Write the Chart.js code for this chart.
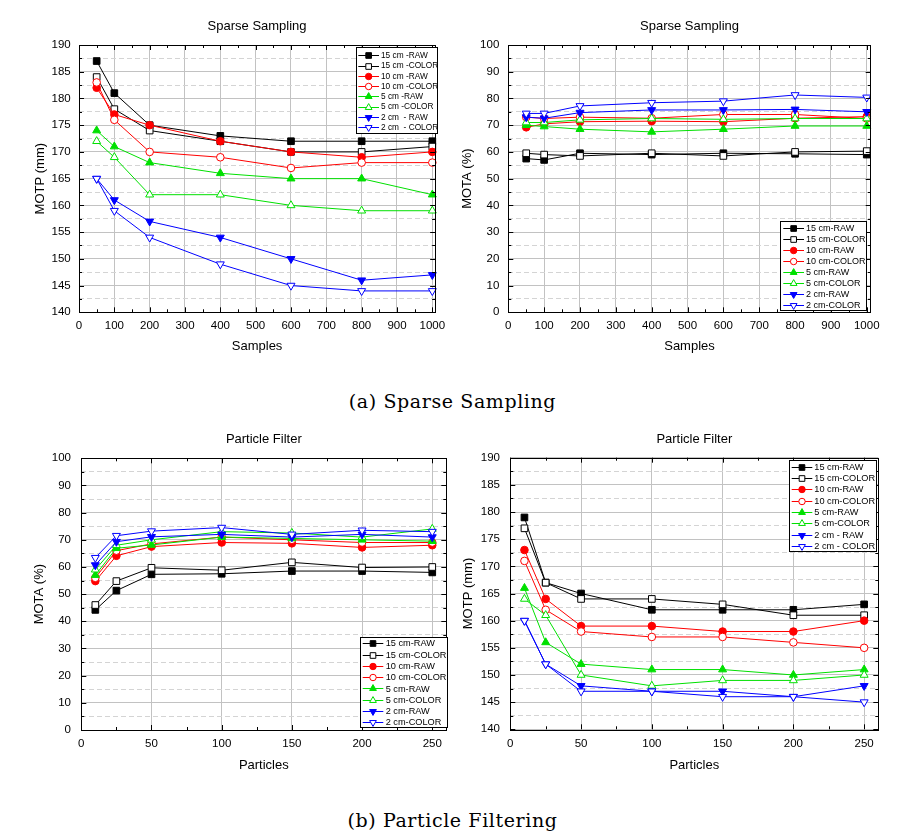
<!DOCTYPE html>
<html><head><meta charset="utf-8">
<script src="https://cdn.jsdelivr.net/npm/chart.js"></script>
<style>
html,body{margin:0;padding:0;background:#fff;width:905px;height:840px;overflow:hidden}
canvas{position:absolute}
.cap{position:absolute;left:0;width:905px;text-align:center;font-family:"DejaVu Serif",serif;font-size:19px;line-height:22px;color:#000;letter-spacing:0.6px}
</style></head><body>
<canvas id="c1" width="452" height="370" style="left:0px;top:0px"></canvas>
<canvas id="c2" width="453" height="370" style="left:452px;top:0px"></canvas>
<canvas id="c3" width="452" height="370" style="left:0px;top:420px"></canvas>
<canvas id="c4" width="453" height="370" style="left:452px;top:420px"></canvas>
<div class="cap" style="top:390px">(a) Sparse Sampling</div>
<div class="cap" style="top:809px">(b) Particle Filtering</div>
<script>
// ---------- categories / x values ----------
const samples = [50, 100, 200, 400, 600, 800, 1000];
const particles = [10, 25, 50, 100, 150, 200, 250];

// ---------- tick labels ----------
const samplesTicks = [0, 100, 200, 300, 400, 500, 600, 700, 800, 900, 1000];
const particlesTicks = [0, 50, 100, 150, 200, 250];
const motpTicks = [140, 145, 150, 155, 160, 165, 170, 175, 180, 185, 190];
const motaTicks = [0, 10, 20, 30, 40, 50, 60, 70, 80, 90, 100];

// ---------- legend labels ----------
const labelsSSMotp = ['15 cm -RAW', '15 cm -COLOR', '10 cm -RAW', '10 cm -COLOR', '5 cm -RAW', '5 cm -COLOR', '2 cm  - RAW', '2 cm  - COLOR'];
const labelsSSMota = ['15 cm-RAW', '15 cm-COLOR', '10 cm-RAW', '10 cm-COLOR', '5 cm-RAW', '5 cm-COLOR', '2 cm-RAW', '2 cm-COLOR'];
const labelsPFMota = ['15 cm-RAW', '15 cm-COLOR', '10 cm-RAW', '10 cm-COLOR', '5 cm-RAW', '5 cm-COLOR', '2 cm-RAW', '2 cm-COLOR'];
const labelsPFMotp = ['15 cm-RAW', '15 cm-COLOR', '10 cm-RAW', '10 cm-COLOR', '5 cm-RAW', '5 cm-COLOR', '2 cm - RAW', '2 cm - COLOR'];

// ---------- Sparse Sampling, MOTP (mm) ----------
const ssMotp15Raw   = [187, 181, 175, 173, 172, 172, 172];
const ssMotp15Color = [184, 178, 174, 172, 170, 170, 171];
const ssMotp10Raw   = [182, 177, 175, 172, 170, 169, 170];
const ssMotp10Color = [183, 176, 170, 169, 167, 168, 168];
const ssMotp5Raw    = [174, 171, 168, 166, 165, 165, 162];
const ssMotp5Color  = [172, 169, 162, 162, 160, 159, 159];
const ssMotp2Raw    = [165, 161, 157, 154, 150, 146, 147];
const ssMotp2Color  = [165, 159, 154, 149, 145, 144, 144];

// ---------- Sparse Sampling, MOTA (%) ----------
const ssMota15Raw   = [57.5, 57, 59.5, 59, 59.5, 59.3, 59];
const ssMota15Color = [59.5, 59, 58.5, 59.5, 58.5, 60, 60.3];
const ssMota10Raw   = [69.2, 70.5, 71.3, 71.5, 71.3, 72.6, 73.2];
const ssMota10Color = [73, 72.5, 73, 72.6, 74, 74, 72.5];
const ssMota5Raw    = [70, 69.5, 68.5, 67.5, 68.5, 69.7, 69.7];
const ssMota5Color  = [71, 71, 72, 72.5, 72.2, 72.5, 72.5];
const ssMota2Raw    = [73, 72.6, 74.7, 75.7, 75.7, 75.9, 75];
const ssMota2Color  = [74.4, 74.4, 77.2, 78.4, 79, 81.3, 80.4];

// ---------- Particle Filter, MOTA (%) ----------
const pfMota15Raw   = [44.2, 51.3, 57.3, 57.5, 58.5, 58.5, 58];
const pfMota15Color = [46, 54.8, 59.7, 58.8, 61.7, 59.8, 60];
const pfMota10Raw   = [54.8, 64.1, 67.5, 69, 68.7, 67.2, 68];
const pfMota10Color = [56, 66, 68.5, 71, 70, 69, 69];
const pfMota5Raw    = [57, 66.9, 68.1, 71, 70.5, 70, 69.5];
const pfMota5Color  = [59, 68, 70, 73, 72.5, 71, 74];
const pfMota2Raw    = [60.7, 69.3, 71.1, 72, 71, 72, 71];
const pfMota2Color  = [63.4, 71.5, 73.2, 74.5, 72, 73.5, 73];

// ---------- Particle Filter, MOTP (mm) ----------
const pfMotp15Raw   = [179, 167, 165, 162, 162, 162, 163];
const pfMotp15Color = [177, 167, 164, 164, 163, 161, 161];
const pfMotp10Raw   = [173, 164, 159, 159, 158, 158, 160];
const pfMotp10Color = [171, 162, 158, 157, 157, 156, 155];
const pfMotp5Raw    = [166, 156, 152, 151, 151, 150, 151];
const pfMotp5Color  = [164, 161, 150, 148, 149, 149, 150];
const pfMotp2Raw    = [160, 152, 148, 147, 147, 146, 148];
const pfMotp2Color  = [160, 152, 147, 147, 146, 146, 145];

// ---------- styles ----------
const FONT = '"Liberation Sans", Arial, sans-serif';
const GREEN = '#00e000';
const seriesStyle = [
  {color: '#000000', shape: 'rect', filled: true, r: 4.7},
  {color: '#000000', shape: 'rect', filled: false, r: 4.7},
  {color: '#ff0000', shape: 'circle', filled: true, r: 3.8},
  {color: '#ff0000', shape: 'circle', filled: false, r: 3.8},
  {color: GREEN, shape: 'triangle', filled: true, r: 4.6, rot: 0},
  {color: GREEN, shape: 'triangle', filled: false, r: 4.6, rot: 0},
  {color: '#0000ff', shape: 'triangle', filled: true, r: 4.6, rot: 180},
  {color: '#0000ff', shape: 'triangle', filled: false, r: 4.6, rot: 180}
];

function midpoints(arr) {
  const out = [];
  for (let i = 0; i < arr.length - 1; i++) out.push((arr[i] + arr[i + 1]) / 2);
  return out;
}

function makeDatasets(xs, series, labels) {
  return series.map((arr, i) => {
    const s = seriesStyle[i];
    return {
      label: labels[i],
      data: xs.map((x, j) => ({x: x, y: arr[j]})),
      borderColor: s.color,
      backgroundColor: s.color,
      borderWidth: 1,
      pointStyle: s.shape,
      pointRotation: s.rot || 0,
      pointRadius: s.r,
      pointBorderWidth: 1,
      pointBackgroundColor: s.filled ? s.color : '#ffffff',
      pointBorderColor: s.color,
      tension: 0,
      fill: false,
      clip: false,
      order: series.length - i
    };
  });
}

function drawMarker(ctx, s, x, y, r) {
  ctx.save();
  ctx.lineWidth = 1;
  ctx.strokeStyle = s.color;
  ctx.fillStyle = s.filled ? s.color : '#ffffff';
  ctx.beginPath();
  if (s.shape === 'rect') {
    const h = r * Math.SQRT1_2;
    ctx.rect(x - h, y - h, 2 * h, 2 * h);
  } else if (s.shape === 'circle') {
    ctx.arc(x, y, r, 0, Math.PI * 2);
  } else {
    const rot = (s.rot || 0) * Math.PI / 180;
    for (let k = 0; k < 3; k++) {
      const a = rot + k * 2 * Math.PI / 3;
      const px = x + Math.sin(a) * r, py = y - Math.cos(a) * r;
      if (k === 0) ctx.moveTo(px, py); else ctx.lineTo(px, py);
    }
    ctx.closePath();
  }
  ctx.fill();
  ctx.stroke();
  ctx.restore();
}

function build(cfg) {
  const canvas = document.getElementById(cfg.id);
  const left = parseFloat(canvas.style.left), top = parseFloat(canvas.style.top);
  const xMinor = midpoints(cfg.xTicks);
  const yMinor = midpoints(cfg.yTicks);
  const yAll = cfg.yTicks.concat(yMinor).sort((a, b) => a - b);
  const isYMajor = v => cfg.yTicks.indexOf(v) >= 0;

  const decor = {
    id: 'decor',
    afterDraw(chart) {
      const ctx = chart.ctx, ca = chart.chartArea;
      const xs = chart.scales.x, ys = chart.scales.y;
      ctx.save();
      // frame
      ctx.strokeStyle = '#000';
      ctx.lineWidth = 1;
      ctx.strokeRect(Math.round(ca.left) + 0.5, Math.round(ca.top) + 0.5, Math.round(ca.right - ca.left), Math.round(ca.bottom - ca.top));
      // inward ticks
      ctx.beginPath();
      const tickX = (v, len) => {
        const p = Math.round(xs.getPixelForValue(v)) + 0.5;
        ctx.moveTo(p, ca.bottom); ctx.lineTo(p, ca.bottom - len);
        ctx.moveTo(p, ca.top); ctx.lineTo(p, ca.top + len);
      };
      const tickY = (v, len) => {
        const p = Math.round(ys.getPixelForValue(v)) + 0.5;
        ctx.moveTo(ca.left, p); ctx.lineTo(ca.left + len, p);
        ctx.moveTo(ca.right, p); ctx.lineTo(ca.right - len, p);
      };
      cfg.xTicks.forEach(v => tickX(v, 5));
      xMinor.forEach(v => tickX(v, 3));
      cfg.yTicks.forEach(v => tickY(v, 5));
      yMinor.forEach(v => tickY(v, 3));
      ctx.stroke();
      // title
      ctx.fillStyle = '#000';
      ctx.font = '13px ' + FONT;
      ctx.textAlign = 'center';
      ctx.textBaseline = 'middle';
      ctx.fillText(cfg.title, (ca.left + ca.right) / 2, cfg.titleY - top);
      // legend
      const L = cfg.legend;
      const bx = L.x0 - left, by = L.y0 - top;
      ctx.fillStyle = '#fff';
      ctx.fillRect(bx, by, L.x1 - L.x0, L.y1 - L.y0);
      ctx.strokeStyle = '#000';
      ctx.lineWidth = 1;
      ctx.strokeRect(Math.round(bx) + 0.5, Math.round(by) + 0.5, Math.round(L.x1 - L.x0), Math.round(L.y1 - L.y0));
      ctx.font = L.font + 'px ' + FONT;
      ctx.textAlign = 'left';
      ctx.textBaseline = 'middle';
      chart.data.datasets.forEach((ds, i) => {
        const s = seriesStyle[i];
        const yy = L.row0 - top + i * L.dy;
        ctx.strokeStyle = s.color;
        ctx.lineWidth = 1;
        ctx.beginPath();
        ctx.moveTo(L.lx0 - left, Math.round(yy) + 0.5);
        ctx.lineTo(L.lx1 - left, Math.round(yy) + 0.5);
        ctx.stroke();
        drawMarker(ctx, s, (L.lx0 + L.lx1) / 2 - left, Math.round(yy) + 0.5, s.r * 0.85);
        ctx.fillStyle = '#000';
        ctx.fillText(ds.label, L.tx - left, yy + 0.5);
      });
      ctx.restore();
    }
  };

  return new Chart(canvas, {
    type: 'line',
    data: {datasets: makeDatasets(cfg.xs, cfg.series, cfg.labels)},
    plugins: [decor],
    options: {
      responsive: false,
      animation: false,
      devicePixelRatio: 1,
      events: [],
      layout: {padding: {left: 0, top: cfg.padTop, right: cfg.padRight, bottom: 0}},
      plugins: {legend: {display: false}, tooltip: {enabled: false}, title: {display: false}},
      scales: {
        x: {
          type: 'linear', min: cfg.xMin, max: cfg.xMax,
          afterBuildTicks: s => { s.ticks = cfg.xTicks.map(v => ({value: v})); },
          afterFit: s => { s.height = cfg.xHeight; },
          ticks: {autoSkip: false, maxRotation: 0, padding: cfg.xTickPad, color: '#000',
                  font: {family: FONT, size: 11.5}, callback: v => String(v)},
          grid: {drawTicks: false, color: '#c2c2c2', lineWidth: 1},
          border: {display: false},
          title: {display: true, text: cfg.xTitle, color: '#000', font: {family: FONT, size: 13},
                  padding: {top: 0, bottom: cfg.xTitlePad}}
        },
        y: {
          type: 'linear', min: cfg.yMin, max: cfg.yMax,
          afterBuildTicks: s => { s.ticks = yAll.map(v => ({value: v})); },
          afterFit: s => { s.width = cfg.yWidth; },
          ticks: {autoSkip: false, padding: cfg.yTickPad, color: '#000',
                  font: {family: FONT, size: 11.5}, callback: v => isYMajor(v) ? String(v) : ''},
          grid: {drawTicks: false, lineWidth: 1,
                 color: c => (c.tick && isYMajor(c.tick.value)) ? '#c2c2c2' : '#d4d4d4'},
          border: {display: false, dash: c => (c.tick && !isYMajor(c.tick.value)) ? [5, 3] : []},
          title: {display: true, text: cfg.yTitle, color: '#000', font: {family: FONT, size: 13},
                  padding: {top: cfg.yTitlePad, bottom: 0}}
        }
      }
    }
  });
}

build({
  id: 'c1', xs: samples, labels: labelsSSMotp,
  series: [ssMotp15Raw, ssMotp15Color, ssMotp10Raw, ssMotp10Color, ssMotp5Raw, ssMotp5Color, ssMotp2Raw, ssMotp2Color],
  xTicks: samplesTicks, yTicks: motpTicks, xMin: 0, xMax: 1008, yMin: 140, yMax: 190,
  padTop: 45, padRight: 11.3, yWidth: 79, xHeight: 57.7,
  xTickPad: 6.8, xTitlePad: 15.5, yTickPad: 8.3, yTitlePad: 32.2,
  title: 'Sparse Sampling', titleY: 26.7, xTitle: 'Samples', yTitle: 'MOTP (mm)',
  legend: {x0: 356, x1: 437, y0: 47, y1: 133, row0: 55.2, dy: 10.3, lx0: 358.3, lx1: 379, tx: 381, font: 8.3}
});
build({
  id: 'c2', xs: samples, labels: labelsSSMota,
  series: [ssMota15Raw, ssMota15Color, ssMota10Raw, ssMota10Color, ssMota5Raw, ssMota5Color, ssMota2Raw, ssMota2Color],
  xTicks: samplesTicks, yTicks: motaTicks, xMin: 0, xMax: 1011, yMin: 0, yMax: 100,
  padTop: 45, padRight: 34.3, yWidth: 56.3, xHeight: 57.7,
  xTickPad: 6.8, xTitlePad: 15.5, yTickPad: 9, yTitlePad: 7.5,
  title: 'Sparse Sampling', titleY: 26.7, xTitle: 'Samples', yTitle: 'MOTA (%)',
  legend: {x0: 780, x1: 866, y0: 221, y1: 310, row0: 227.7, dy: 11, lx0: 783.3, lx1: 804, tx: 806, font: 9}
});
build({
  id: 'c3', xs: particles, labels: labelsPFMota,
  series: [pfMota15Raw, pfMota15Color, pfMota10Raw, pfMota10Color, pfMota5Raw, pfMota5Color, pfMota2Raw, pfMota2Color],
  xTicks: particlesTicks, yTicks: motaTicks, xMin: 0, xMax: 260, yMin: 0, yMax: 100,
  padTop: 38.3, padRight: 3, yWidth: 81.3, xHeight: 60,
  xTickPad: 7.1, xTitlePad: 17.2, yTickPad: 10.3, yTitlePad: 31.5,
  title: 'Particle Filter', titleY: 439.3, xTitle: 'Particles', yTitle: 'MOTA (%)',
  legend: {x0: 360.3, x1: 447.3, y0: 637, y1: 727, row0: 643.3, dy: 11.3, lx0: 362.7, lx1: 383.3, tx: 385.7, font: 9.2}
});
build({
  id: 'c4', xs: particles, labels: labelsPFMotp,
  series: [pfMotp15Raw, pfMotp15Color, pfMotp10Raw, pfMotp10Color, pfMotp5Raw, pfMotp5Color, pfMotp2Raw, pfMotp2Color],
  xTicks: particlesTicks, yTicks: motpTicks, xMin: 0, xMax: 260, yMin: 140, yMax: 190,
  padTop: 37.7, padRight: 26.7, yWidth: 58.3, xHeight: 60.7,
  xTickPad: 7.8, xTitlePad: 17.2, yTickPad: 10.3, yTitlePad: 8.5,
  title: 'Particle Filter', titleY: 439.3, xTitle: 'Particles', yTitle: 'MOTP (mm)',
  legend: {x0: 789.3, x1: 876.7, y0: 460, y1: 550.7, row0: 466.7, dy: 11.3, lx0: 791.7, lx1: 812.3, tx: 814.3, font: 9.2}
});
</script>
</body></html>
